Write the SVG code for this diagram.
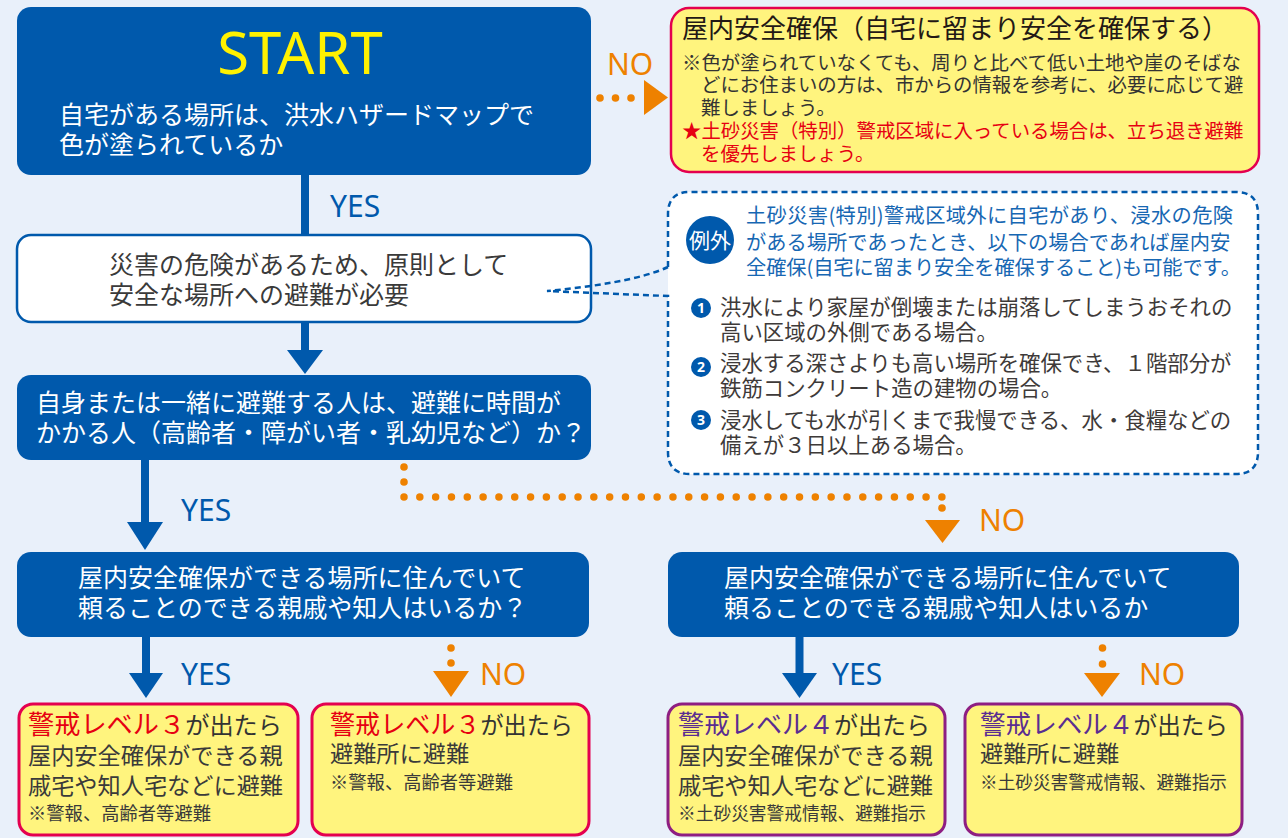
<svg xmlns="http://www.w3.org/2000/svg" width="1288" height="838" viewBox="0 0 1288 838">
<style>
.jp{font-family:"Noto Sans CJK JP","Noto Sans CJK SC",sans-serif;}
.lat{font-family:"Noto Sans","Liberation Sans",sans-serif;}
.bluebox{fill:#0059AC;}
.wt{fill:#FFFFFF;font-size:25px;}
.dk{fill:#3A3A3A;}
.yes{fill:#0059AC;font-size:30px;}
.no{fill:#EE8100;font-size:30px;}
.ybox{fill:#FFF47E;stroke-width:3;}
.red{stroke:#E4004F;}
.pur{stroke:#8E1E82;}
.bl{stroke:#0059AC;stroke-width:8;fill:none;}
.dots{stroke:#EE8100;stroke-width:7.5;stroke-linecap:round;fill:none;}
.dot{fill:#EE8100;}
.tri-b{fill:#0059AC;}
.tri-o{fill:#EE8100;}
</style>
<rect x="0" y="0" width="1288" height="838" fill="#E9F0FA"/>

<g id="connectors">
  <line class="bl" x1="305" y1="170" x2="305" y2="238"/>
  <line class="bl" x1="305" y1="320" x2="305" y2="352"/>
  <polygon class="tri-b" points="287,350 323,350 305,374"/>
  <line class="bl" x1="145" y1="458" x2="145" y2="524"/>
  <polygon class="tri-b" points="127,522 163,522 145,550"/>
  <line class="bl" x1="146" y1="635" x2="146" y2="675"/>
  <polygon class="tri-b" points="129,673 163,673 146,698"/>
  <line class="bl" x1="799.5" y1="635" x2="799.5" y2="675"/>
  <polygon class="tri-b" points="782,673 817,673 799.5,698"/>
  <!-- orange dotted -->
  <circle class="dot" cx="404" cy="467" r="3.8"/>
  <circle class="dot" cx="404" cy="482" r="3.8"/>
  <line class="dots" x1="404" y1="497" x2="942" y2="497" stroke-dasharray="0 15.82"/>
  <circle class="dot" cx="942" cy="508" r="3.8"/>
  <polygon class="tri-o" points="925,520 960,520 942.5,543"/>
  <circle class="dot" cx="600" cy="98" r="3.8"/>
  <circle class="dot" cx="615.5" cy="98" r="3.8"/>
  <circle class="dot" cx="631" cy="98" r="3.8"/>
  <polygon class="tri-o" points="644,80 644,115 668,97.5"/>
  <circle class="dot" cx="451" cy="648" r="3.8"/>
  <circle class="dot" cx="451" cy="663" r="3.8"/>
  <polygon class="tri-o" points="433,671 469,671 451,697"/>
  <circle class="dot" cx="1102.5" cy="648" r="3.8"/>
  <circle class="dot" cx="1102.5" cy="664" r="3.8"/>
  <polygon class="tri-o" points="1084,673 1120,673 1102,697"/>
  <!-- labels -->
  <text class="lat yes" x="330" y="217">YES</text>
  <text class="lat yes" x="181" y="521">YES</text>
  <text class="lat no" x="979" y="531">NO</text>
  <text class="lat no" x="607" y="75">NO</text>
  <text class="lat yes" x="181" y="685">YES</text>
  <text class="lat no" x="480" y="685">NO</text>
  <text class="lat yes" x="832" y="685">YES</text>
  <text class="lat no" x="1139" y="685">NO</text>
</g>

<g id="start">
  <rect class="bluebox" x="17" y="7" width="574" height="168" rx="14"/>
  <text class="lat" x="300" y="74" text-anchor="middle" font-size="58" fill="#FFF100">START</text>
  <text class="jp wt" x="59" y="124">自宅がある場所は、洪水ハザードマップで</text>
  <text class="jp wt" x="59" y="154">色が塗られているか</text>
</g>

<g id="shelter-in-place">
  <rect x="671" y="8" width="588" height="164" rx="18" fill="#FFF47E" stroke="#E4004F" stroke-width="2.5"/>
  <text class="jp" x="682" y="37.5" font-size="26" fill="#231815">屋内安全確保（自宅に留まり安全を確保する）</text>
  <g class="jp" font-size="19.4" fill="#333333">
    <text x="682" y="70">※色が塗られていなくても、周りと比べて低い土地や崖のそばな</text>
    <text x="701" y="92">どにお住まいの方は、市からの情報を参考に、必要に応じて避</text>
    <text x="701" y="115">難しましょう。</text>
  </g>
  <g class="jp" font-size="19.4" fill="#E60012">
    <text x="682" y="138">★土砂災害（特別）警戒区域に入っている場合は、立ち退き避難</text>
    <text x="701" y="161">を優先しましょう。</text>
  </g>
</g>

<g id="evacuation-needed">
  <rect x="17" y="235" width="574" height="87" rx="14" fill="#FFFFFF" stroke="#0059AC" stroke-width="2.5"/>
  <text class="jp dk" x="109" y="274" font-size="25">災害の危険があるため、原則として</text>
  <text class="jp dk" x="109" y="304" font-size="25">安全な場所への避難が必要</text>
</g>

<g id="exception">
  <path d="M668,214 Q668,192 690,192 L1236,192 Q1258,192 1258,214 L1258,452 Q1258,474 1236,474 L690,474 Q668,474 668,452 Z" fill="#FFFFFF"/>
  <path d="M668,267 L668,214 Q668,192 690,192 L1236,192 Q1258,192 1258,214 L1258,452 Q1258,474 1236,474 L690,474 Q668,474 668,452 L668,296 L547,291 C590,287 640,280 668,267" fill="none" stroke="#0059AC" stroke-width="2.5" stroke-dasharray="6 4"/>
  <circle cx="710" cy="240" r="24" fill="#0059AC"/>
  <text class="jp" x="710" y="248" font-size="21" fill="#FFFFFF" text-anchor="middle" textLength="42" lengthAdjust="spacingAndGlyphs">例外</text>
  <g class="jp" font-size="20.25" fill="#1767B3">
    <text x="746" y="223" textLength="487" lengthAdjust="spacing">土砂災害(特別)警戒区域外に自宅があり、浸水の危険</text>
    <text x="746" y="249.5">がある場所であったとき、以下の場合であれば屋内安</text>
    <text x="746" y="275" textLength="495" lengthAdjust="spacing">全確保(自宅に留まり安全を確保すること)も可能です。</text>
  </g>
  <g fill="#0059AC">
    <circle cx="701" cy="308" r="10"/>
    <circle cx="701" cy="367" r="10"/>
    <circle cx="701" cy="420" r="10"/>
  </g>
  <g class="lat" font-size="14" font-weight="bold" fill="#FFFFFF" text-anchor="middle">
    <text x="701" y="313">1</text>
    <text x="701" y="372">2</text>
    <text x="701" y="425">3</text>
  </g>
  <g class="jp" font-size="21.4" fill="#3E3A39">
    <text x="720" y="314.5">洪水により家屋が倒壊または崩落してしまうおそれの</text>
    <text x="720" y="339.5">高い区域の外側である場合。</text>
    <text x="720" y="370.5">浸水する深さよりも高い場所を確保でき、１階部分が</text>
    <text x="720" y="395.5">鉄筋コンクリート造の建物の場合。</text>
    <text x="720" y="427.5">浸水しても水が引くまで我慢できる、水・食糧などの</text>
    <text x="720" y="452.5">備えが３日以上ある場合。</text>
  </g>
</g>

<g id="needs-time">
  <rect class="bluebox" x="17" y="375" width="574" height="85" rx="14"/>
  <text class="jp wt" x="36" y="412">自身または一緒に避難する人は、避難に時間が</text>
  <text class="jp wt" x="36" y="442">かかる人（高齢者・障がい者・乳幼児など）か？</text>
</g>

<g id="relatives-left">
  <rect class="bluebox" x="17" y="552" width="572" height="85" rx="14"/>
  <text class="jp wt" x="78" y="587">屋内安全確保ができる場所に住んでいて</text>
  <text class="jp wt" x="78" y="617">頼ることのできる親戚や知人はいるか？</text>
</g>

<g id="relatives-right">
  <rect class="bluebox" x="668" y="552" width="571" height="85" rx="14"/>
  <text class="jp wt" x="724" y="587">屋内安全確保ができる場所に住んでいて</text>
  <text class="jp wt" x="724" y="617">頼ることのできる親戚や知人はいるか</text>
</g>

<g id="level3-relatives">
  <rect class="ybox red" x="19" y="704" width="279" height="131" rx="14"/>
  <text class="jp" x="28" y="734" textLength="254" lengthAdjust="spacingAndGlyphs"><tspan font-size="26" fill="#E60012">警戒レベル３</tspan><tspan font-size="24" fill="#333333">が出たら</tspan></text>
  <text class="jp dk" x="28" y="764" font-size="23.2">屋内安全確保ができる親</text>
  <text class="jp dk" x="28" y="794" font-size="23.2">戚宅や知人宅などに避難</text>
  <text class="jp dk" x="28" y="820" font-size="18.5" textLength="183" lengthAdjust="spacingAndGlyphs">※警報、高齢者等避難</text>
</g>

<g id="level3-shelter">
  <rect class="ybox red" x="312" y="704" width="277" height="131" rx="14"/>
  <text class="jp" x="330" y="734" textLength="243" lengthAdjust="spacingAndGlyphs"><tspan font-size="26" fill="#E60012">警戒レベル３</tspan><tspan font-size="24" fill="#333333">が出たら</tspan></text>
  <text class="jp dk" x="330" y="762" font-size="23.2">避難所に避難</text>
  <text class="jp dk" x="330" y="789" font-size="18.5" textLength="183" lengthAdjust="spacingAndGlyphs">※警報、高齢者等避難</text>
</g>

<g id="level4-relatives">
  <rect class="ybox pur" x="668" y="704" width="277" height="131" rx="14"/>
  <text class="jp" x="678" y="734" textLength="252" lengthAdjust="spacingAndGlyphs"><tspan font-size="26" fill="#5A2D91">警戒レベル４</tspan><tspan font-size="24" fill="#333333">が出たら</tspan></text>
  <text class="jp dk" x="678" y="764" font-size="23.2">屋内安全確保ができる親</text>
  <text class="jp dk" x="678" y="794" font-size="23.2">戚宅や知人宅などに避難</text>
  <text class="jp dk" x="678" y="820" font-size="18.5" textLength="248" lengthAdjust="spacingAndGlyphs">※土砂災害警戒情報、避難指示</text>
</g>

<g id="level4-shelter">
  <rect class="ybox pur" x="965" y="704" width="277" height="131" rx="14"/>
  <text class="jp" x="980" y="734" textLength="248" lengthAdjust="spacingAndGlyphs"><tspan font-size="26" fill="#5A2D91">警戒レベル４</tspan><tspan font-size="24" fill="#333333">が出たら</tspan></text>
  <text class="jp dk" x="980" y="762" font-size="23.2">避難所に避難</text>
  <text class="jp dk" x="980" y="789" font-size="18.5" textLength="247" lengthAdjust="spacingAndGlyphs">※土砂災害警戒情報、避難指示</text>
</g>
</svg>
